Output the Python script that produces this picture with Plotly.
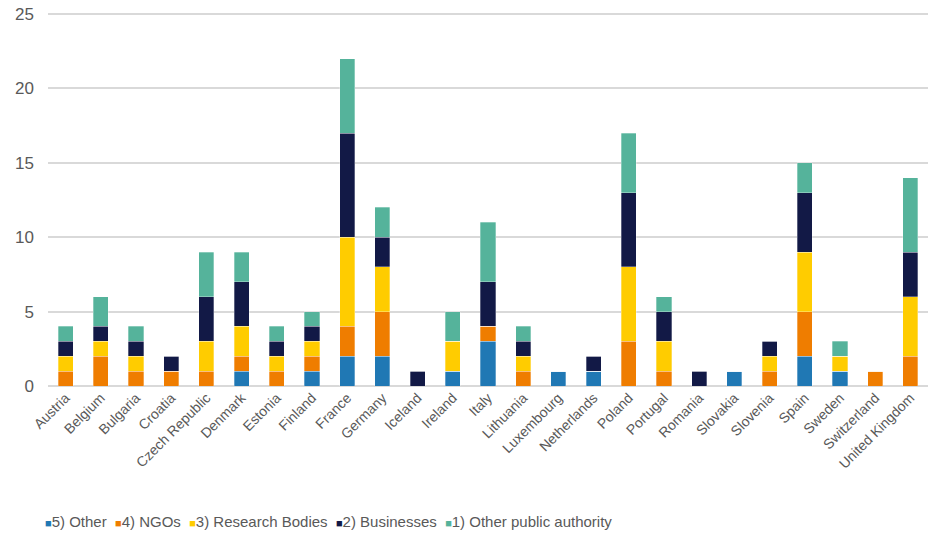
import plotly.graph_objects as go

countries = ["Austria", "Belgium", "Bulgaria", "Croatia", "Czech Republic", "Denmark",
             "Estonia", "Finland", "France", "Germany", "Iceland", "Ireland", "Italy",
             "Lithuania", "Luxembourg", "Netherlands", "Poland", "Portugal", "Romania",
             "Slovakia", "Slovenia", "Spain", "Sweden", "Switzerland", "United Kingdom"]

other =            [0, 0, 0, 0, 0, 1, 0, 1, 2, 2, 0, 1, 3, 0, 1, 1, 0, 0, 0, 1, 0, 2, 1, 0, 0]
ngos =             [1, 2, 1, 1, 1, 1, 1, 1, 2, 3, 0, 0, 1, 1, 0, 0, 3, 1, 0, 0, 1, 3, 0, 1, 2]
research_bodies =  [1, 1, 1, 0, 2, 2, 1, 1, 6, 3, 0, 2, 0, 1, 0, 0, 5, 2, 0, 0, 1, 4, 1, 0, 4]
businesses =       [1, 1, 1, 1, 3, 3, 1, 1, 7, 2, 1, 0, 3, 1, 0, 1, 5, 2, 1, 0, 1, 4, 0, 0, 3]
other_public =     [1, 2, 1, 0, 3, 2, 1, 1, 5, 2, 0, 2, 4, 1, 0, 0, 4, 1, 0, 0, 0, 2, 1, 0, 5]

series = [
    ("5) Other", other, "#2078B4"),
    ("4) NGOs", ngos, "#EF7D00"),
    ("3) Research Bodies", research_bodies, "#FFCC00"),
    ("2) Businesses", businesses, "#121946"),
    ("1) Other public authority", other_public, "#55B39B"),
]

fig = go.Figure()
for name, vals, color in series:
    fig.add_trace(go.Bar(
        x=countries, y=vals, name=name, showlegend=False,
        marker=dict(color=color, line=dict(color="rgba(255,255,255,0.6)", width=0.5)),
    ))

# compact legend in the style of the original (small squares close to the text)
legend_text = "&nbsp; ".join(
    f"<span style='color:{c};font-size:11px'>■</span>{n}" for n, _, c in series
)
fig.add_annotation(
    text=legend_text, xref="paper", yref="paper", x=-0.006, y=-0.3616,
    xanchor="left", yanchor="middle", showarrow=False,
    font=dict(size=15, color="#595959", family="Liberation Sans, Arial, sans-serif"),
)

fig.update_layout(
    barmode="stack",
    bargap=0.57,
    width=928, height=537,
    margin=dict(l=48, r=0, t=10, b=151),
    plot_bgcolor="white",
    paper_bgcolor="white",
    font=dict(family="Liberation Sans, Arial, sans-serif", color="#595959", size=12),
    showlegend=False,
)
fig.update_xaxes(tickangle=-45, tickfont=dict(size=14, color="#595959"),
                 showline=False, ticks="", automargin=False)
fig.update_yaxes(range=[0, 25.27], tickvals=[0, 5, 10, 15, 20, 25],
                 showgrid=True, gridcolor="#D9D9D9", gridwidth=1.5,
                 zeroline=True, zerolinecolor="#D9D9D9", zerolinewidth=1.5,
                 tickfont=dict(size=17, color="#595959"), ticklabelstandoff=13,
                 ticklabeloverflow="allow", automargin=False)

# remove the default 8px page margin so the figure fills the window exactly
fig.write_html("out.html", config={"displayModeBar": False},
               post_script="document.body.style.margin='0';")
